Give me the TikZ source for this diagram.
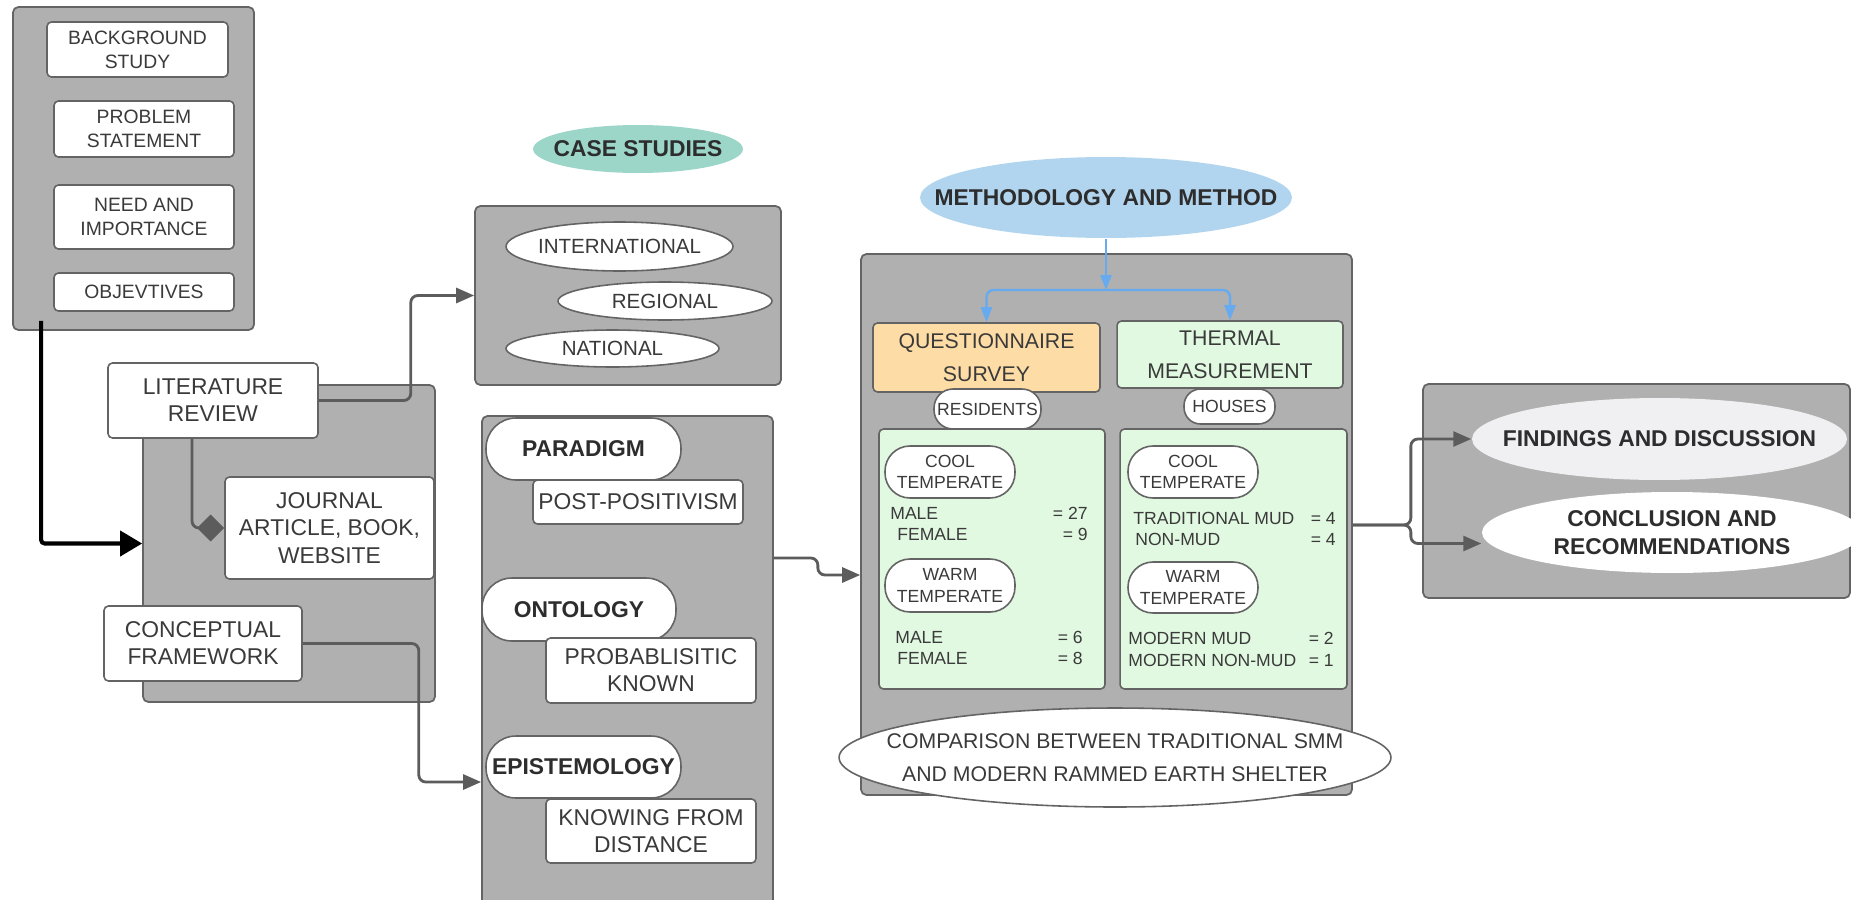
\documentclass[tikz,border=0pt]{standalone}
\usepackage{fontspec}
\setmainfont{Liberation Sans}
\usetikzlibrary{shapes.geometric, arrows.meta, positioning}
\definecolor{panelgray}{RGB}{176,176,176}
\definecolor{linegray}{RGB}{100,100,100}
\definecolor{arrowgray}{RGB}{92,92,92}
\definecolor{txtgray}{RGB}{58,58,58}
\definecolor{headgray}{RGB}{45,45,45}
\definecolor{casegreen}{RGB}{155,214,201}
\definecolor{methblue}{RGB}{178,213,239}
\definecolor{flowblue}{RGB}{102,170,240}
\definecolor{questorange}{RGB}{253,220,165}
\definecolor{thermgreen}{RGB}{225,248,225}
\definecolor{findgray}{RGB}{240,240,242}

\begin{document}
\begin{tikzpicture}[x=0.02cm, y=-0.02cm,
    panel/.style={rectangle, draw=linegray, fill=panelgray, line width=1pt, rounded corners=3pt, inner sep=0},
    wbox/.style={rectangle, draw=linegray, fill=white, line width=0.9pt, rounded corners=2.5pt, inner sep=0, align=center, text=txtgray},
    pill/.style={rectangle, draw=linegray, fill=white, line width=0.9pt, rounded corners=#1, inner sep=0, align=center, text=txtgray},
    oval/.style={ellipse, draw=linegray, fill=white, line width=0.9pt, inner xsep=-6cm, inner ysep=-2cm, align=center, text=txtgray},
    fhead/.style={font=\bfseries\fontsize{13}{16}\selectfont, text=headgray},
    fbig/.style={font=\fontsize{13}{15.5}\selectfont},
    fmid/.style={font=\fontsize{12.1}{19}\selectfont},
    fcase/.style={font=\fontsize{11.7}{14}\selectfont},
    fsmall/.style={font=\fontsize{11}{13.7}\selectfont},
    ftiny/.style={font=\fontsize{10}{12.3}\selectfont},
    tally/.style={inner sep=0, text=txtgray, font=\fontsize{10}{12}\selectfont},
    link/.style={draw=arrowgray, line width=1.6pt, rounded corners=4pt, -{Triangle[length=0.36cm,width=0.3cm]}},
    flow/.style={draw=flowblue, line width=1.4pt, rounded corners=4pt, -{Triangle[length=0.3cm,width=0.22cm]}}
]
\useasboundingbox (0,0) rectangle (1851,899);

% grey panels
\node[panel, minimum width=4.82cm, minimum height=6.46cm] (intropanel) at (133.5,168.5) {};
\node[panel, minimum width=5.84cm, minimum height=6.34cm] (litpanel) at (289,543.5) {};
\node[panel, minimum width=6.12cm, minimum height=3.58cm] (casepanel) at (628,295.5) {};
\node[panel, minimum width=5.82cm, minimum height=9.88cm] (parapanel) at (627.5,663) {};
\node[panel, minimum width=9.82cm, minimum height=10.82cm] (methpanel) at (1106.5,524.5) {};
\node[panel, minimum width=8.54cm, minimum height=4.28cm] (endpanel) at (1636.5,491) {};

% introduction
\node[wbox, fsmall, minimum width=3.62cm, minimum height=1.1cm] (bg) at (137.5,49.5) {BACKGROUND\\STUDY};
\node[wbox, fsmall, minimum width=3.6cm, minimum height=1.12cm] (prob) at (144,129) {PROBLEM\\STATEMENT};
\node[wbox, fsmall, minimum width=3.6cm, minimum height=1.28cm] (need) at (144,217) {NEED AND\\IMPORTANCE};
\node[wbox, fsmall, minimum width=3.6cm, minimum height=0.76cm] (obj) at (144,292) {OBJEVTIVES};

% literature
\node[wbox, fbig, minimum width=4.2cm, minimum height=1.5cm] (lit) at (213,400.5) {LITERATURE\\REVIEW};
\node[wbox, fbig, minimum width=4.18cm, minimum height=2.04cm] (journal) at (329.5,528) {JOURNAL\\ARTICLE, BOOK,\\WEBSITE};
\node[wbox, fbig, minimum width=3.96cm, minimum height=1.5cm] (concept) at (203,643.5) {CONCEPTUAL\\FRAMEWORK};

% case studies
\node[oval, draw=none, fill=casegreen, fhead, minimum width=4.2cm, minimum height=0.96cm] (casehead) at (638,149) {CASE STUDIES};
\node[oval, fcase, minimum width=4.54cm, minimum height=0.98cm] (intl) at (619.5,246.5) {INTERNATIONAL};
\node[oval, fcase, minimum width=4.28cm, minimum height=0.76cm] (reg) at (665,301) {REGIONAL};
\node[oval, fcase, minimum width=4.26cm, minimum height=0.74cm] (nat) at (612.5,348.5) {NATIONAL};

% paradigm
\node[pill=0.6cm, fhead, minimum width=3.9cm, minimum height=1.24cm] (para) at (583.5,449) {PARADIGM};
\node[wbox, fbig, minimum width=4.2cm, minimum height=0.88cm] (postpos) at (638,502) {POST-POSITIVISM};
\node[pill=0.6cm, fhead, minimum width=3.88cm, minimum height=1.26cm] (onto) at (579,609.5) {ONTOLOGY};
\node[wbox, fbig, minimum width=4.2cm, minimum height=1.3cm] (probab) at (651,670.5) {PROBABLISITIC\\KNOWN};
\node[pill=0.6cm, fhead, minimum width=3.9cm, minimum height=1.24cm] (episte) at (583.5,767) {EPISTEMOLOGY};
\node[wbox, fbig, minimum width=4.2cm, minimum height=1.28cm] (knowing) at (651,831) {KNOWING FROM\\DISTANCE};

% methodology
\node[oval, draw=none, fill=methblue, fhead, minimum width=7.44cm, minimum height=1.62cm] (meth) at (1106,197.5) {METHODOLOGY AND METHOD};
\node[wbox, fill=questorange, fmid, minimum width=4.54cm, minimum height=1.38cm] (quest) at (986.5,357.5) {QUESTIONNAIRE\\SURVEY};
\node[wbox, fill=thermgreen, fmid, minimum width=4.52cm, minimum height=1.34cm] (therm) at (1230,354.5) {THERMAL\\MEASUREMENT};
\node[wbox, fill=thermgreen, minimum width=4.52cm, minimum height=5.2cm] (resbox) at (992,559) {};
\node[wbox, fill=thermgreen, minimum width=4.54cm, minimum height=5.2cm] (housebox) at (1233.5,559) {};
\node[pill=0.38cm, ftiny, minimum width=2.14cm, minimum height=0.8cm] (resid) at (987.5,409) {RESIDENTS};
\node[pill=0.33cm, ftiny, minimum width=1.82cm, minimum height=0.7cm] (houses) at (1229.5,406.5) {HOUSES};

\node[pill=0.5cm, ftiny, minimum width=2.6cm, minimum height=1.04cm] (coolres) at (950,472) {COOL\\TEMPERATE};
\node[tally, anchor=west] (m1) at (890,513) {MALE};
\node[tally, anchor=east] (m1n) at (1088,513) {= 27};
\node[tally, anchor=west] (f1) at (897,534) {FEMALE};
\node[tally, anchor=east] (f1n) at (1088,534) {= 9};
\node[pill=0.5cm, ftiny, minimum width=2.6cm, minimum height=1.06cm] (warmres) at (950,585.5) {WARM\\TEMPERATE};
\node[tally, anchor=west] (m2) at (895,637) {MALE};
\node[tally, anchor=east] (m2n) at (1083,637) {= 6};
\node[tally, anchor=west] (f2) at (897,658) {FEMALE};
\node[tally, anchor=east] (f2n) at (1083,658) {= 8};

\node[pill=0.5cm, ftiny, minimum width=2.6cm, minimum height=1.04cm] (coolhouse) at (1193,472) {COOL\\TEMPERATE};
\node[tally, anchor=west] (tm) at (1133,518) {TRADITIONAL MUD};
\node[tally, anchor=east] (tmn) at (1336,518) {= 4};
\node[tally, anchor=west] (nm) at (1135,539) {NON-MUD};
\node[tally, anchor=east] (nmn) at (1336,539) {= 4};
\node[pill=0.5cm, ftiny, minimum width=2.6cm, minimum height=1.02cm] (warmhouse) at (1193,587.5) {WARM\\TEMPERATE};
\node[tally, anchor=west] (mm) at (1128,638) {MODERN MUD};
\node[tally, anchor=east] (mmn) at (1334,638) {= 2};
\node[tally, anchor=west] (mn) at (1128,660) {MODERN NON-MUD};
\node[tally, anchor=east] (mnn) at (1334,660) {= 1};

\node[oval, fmid, minimum width=11.04cm, minimum height=1.98cm] (compare) at (1115,757.5) {COMPARISON BETWEEN TRADITIONAL SMM\\AND MODERN RAMMED EARTH SHELTER};

% findings
\node[oval, draw=none, fill=findgray, fhead, minimum width=7.5cm, minimum height=1.64cm] (find) at (1659.5,439) {FINDINGS AND DISCUSSION};
\node[oval, draw=none, fhead, minimum width=7.6cm, minimum height=1.62cm] (concl) at (1672,532.5) {CONCLUSION AND\\RECOMMENDATIONS};

% connectors
\draw[line width=2.3pt, rounded corners=2pt, -{Triangle[length=0.44cm,width=0.5cm]}] ([xshift=0.58cm,yshift=0.2cm]intropanel.south west) |- (litpanel.west);
\draw[link] (lit.east) -- ++(92,0) |- (casepanel.west);
\draw[link, -{Diamond[length=0.54cm,width=0.54cm]}] ([xshift=-0.42cm]lit.south) |- (journal.west);
\draw[link] (concept.east) -- ++(116,0) |- (parapanel.west |- 0,782);
\draw[link] (parapanel.east |- 0,558) -- ++(44,0) |- (methpanel.west |- 0,575);
\draw[flow] (meth.south) -- (meth.south |- 0,290);
\draw[flow] (meth.south |- 0,290) -| (quest.north);
\draw[flow] (meth.south |- 0,290) -| (therm.north);
\draw[link] (methpanel.east |- 0,525) -- ++(58,0) |- (find.west);
\draw[link] (methpanel.east |- 0,525) -- ++(58,0) |- ([yshift=-0.22cm]concl.west);
\end{tikzpicture}
\end{document}
